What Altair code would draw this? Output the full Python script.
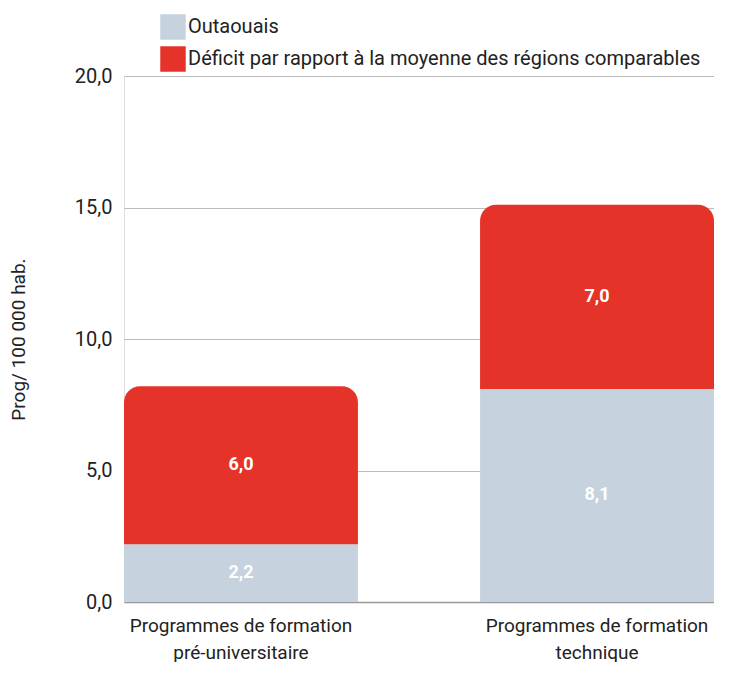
import altair as alt
import pandas as pd

categories = ["Programmes de formation pré-universitaire", "Programmes de formation technique"]
series = ["Outaouais", "Déficit par rapport à la moyenne des régions comparables"]
outaouais = [2.2, 8.1]
deficit = [6.0, 7.0]
colors = ["#C6D3DE", "#E6332A"]

rows = []
for i, c in enumerate(categories):
    rows.append({"cat": c, "serie": series[0], "value": outaouais[i], "ord": 0})
    rows.append({"cat": c, "serie": series[1], "value": deficit[i], "ord": 1})
df = pd.DataFrame(rows)

FONT = "Roboto"

base = alt.Chart(df).transform_stack(
    stack="value", groupby=["cat"], as_=["v0", "v1"], sort=[alt.SortField("ord", order="ascending")]
).transform_calculate(
    mid="(datum.v0 + datum.v1) / 2",
    lbl="replace(format(datum.value, '.1f'), '.', ',')",
)

xenc = alt.X(
    "cat:N",
    sort=categories,
    scale=alt.Scale(paddingInner=0.343, paddingOuter=0),
    axis=alt.Axis(
        title=None,
        labelAngle=0,
        labelExpr="datum.label == 'Programmes de formation pré-universitaire' ? ['Programmes de formation', 'pré-universitaire'] : ['Programmes de formation', 'technique']",
        labelFontSize=19,
        labelFont=FONT,
        labelColor="#222",
        labelPadding=14,
        labelLineHeight=27,
        labelLimit=0,
        ticks=False,
        domainColor="#999",
        domainWidth=1.5,
        grid=False,
    ),
)

yscale = alt.Scale(domain=[0, 20])
yaxis = alt.Axis(
    title="Prog/ 100 000 hab.",
    titleFont=FONT,
    titleFontSize=19,
    titleFontWeight="normal",
    titleColor="#222",
    titlePadding=46,
    values=[0, 5, 10, 15, 20],
    labelExpr="replace(format(datum.value, '.1f'), '.', ',')",
    labelFont=FONT,
    labelFontSize=20,
    labelColor="#222",
    labelPadding=12,
    ticks=False,
    domain=False,
    gridColor="#BBBBBB",
    gridWidth=1,
)

color = alt.Color(
    "serie:N",
    scale=alt.Scale(domain=series, range=colors),
    legend=alt.Legend(
        title=None,
        orient="none",
        legendX=36,
        legendY=-62,
        symbolType="square",
        symbolSize=650,
        symbolStrokeWidth=0,
        symbolOpacity=1,
        labelFont=FONT,
        labelFontSize=20,
        labelColor="#222",
        labelLimit=0,
        labelOffset=2,
        rowPadding=6,
        padding=0,
    ),
)

bottom = base.transform_filter(alt.datum.ord == 0).mark_bar().encode(
    x=xenc,
    y=alt.Y("v0:Q", scale=yscale, axis=yaxis),
    y2="v1:Q",
    color=color,
)

top = base.transform_filter(alt.datum.ord == 1).mark_bar(
    cornerRadiusTopLeft=16, cornerRadiusTopRight=16
).encode(
    x=alt.X("cat:N", sort=categories),
    y=alt.Y("v0:Q"),
    y2="v1:Q",
    color=color,
)

labels = base.mark_text(
    color="white", font=FONT, fontSize=18, fontWeight="bold", baseline="middle"
).encode(
    x=alt.X("cat:N", sort=categories),
    y=alt.Y("mid:Q"),
    text="lbl:N",
)

chart = alt.layer(bottom, top, labels).properties(
    width=590, height=526, padding={"left": 1, "top": 6, "right": 0, "bottom": 0}
).configure_view(stroke=None).configure(background="white")

chart.save("out.html", embed_options={"renderer": "svg", "actions": False})
